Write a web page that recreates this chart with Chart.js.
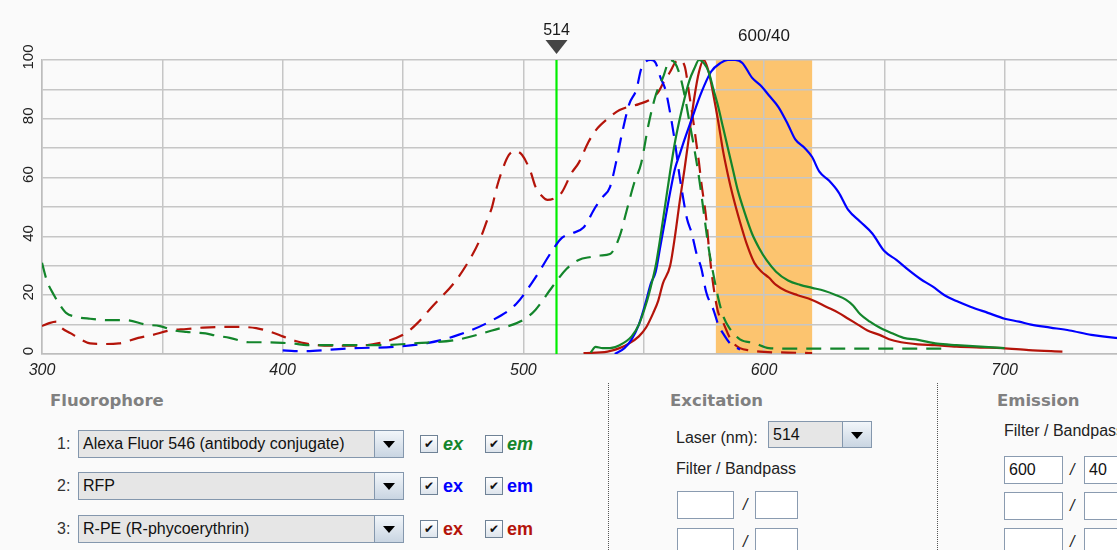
<!DOCTYPE html>
<html><head><meta charset="utf-8">
<script src="https://cdn.jsdelivr.net/npm/chart.js@4.4.0/dist/chart.umd.min.js"></script>
<style>
html,body{margin:0;padding:0;width:1117px;height:550px;overflow:hidden;background:#fafafa;font-family:"Liberation Sans",Arial,sans-serif;}
#wrap{position:absolute;left:0;top:0;width:1132px;height:380px;}
.a{position:absolute;white-space:nowrap;}
.hdr{font-family:"DejaVu Sans",sans-serif;font-weight:bold;font-size:16.5px;color:#808080;}
.txt{font-size:16px;color:#222;line-height:28px;}
.combo{position:absolute;box-sizing:border-box;border:1px solid #8497ad;background:#e6e6e6;font-size:16px;color:#111;line-height:26px;padding-left:4px;white-space:nowrap;overflow:hidden;}
.combo .btn{position:absolute;right:0;top:0;bottom:0;width:28px;border-left:1px solid #8497ad;background:linear-gradient(#f2f6fa,#c9d5e2);}
.combo .btn:after{content:"";position:absolute;left:8px;top:10px;border-left:6px solid transparent;border-right:6px solid transparent;border-top:7px solid #000;}
.chk{position:absolute;box-sizing:border-box;width:18px;height:18px;border:1px solid #6f8296;background:linear-gradient(#ffffff,#dde4ec);font-family:"DejaVu Sans",sans-serif;font-size:12px;font-weight:bold;line-height:16px;text-align:center;color:#111;}
.lbl{position:absolute;font-weight:bold;font-size:18px;line-height:28px;}
.inp{position:absolute;box-sizing:border-box;height:28px;border:1px solid #8a9bb0;background:#fff;font-size:16px;line-height:26px;padding-left:4px;color:#111;}
.sep{position:absolute;top:383px;height:167px;width:0;border-left:1.5px dotted #555;}
</style></head>
<body>
<div id="wrap"><canvas id="c" width="1132" height="380"></canvas></div>

<div class="a hdr" style="left:50px;top:391px;">Fluorophore</div>

<div class="a txt" style="left:57px;top:430px;color:#333;">1:</div>
<div class="combo" style="left:78px;top:430px;width:326px;height:28px;">Alexa Fluor 546 (antibody conjugate)<div class="btn"></div></div>
<div class="chk" style="left:420px;top:435px;">✔</div>
<div class="lbl" style="left:443px;top:430px;color:#13852b;font-style:italic;">ex</div>
<div class="chk" style="left:485px;top:435px;">✔</div>
<div class="lbl" style="left:507px;top:430px;color:#13852b;font-style:italic;">em</div>

<div class="a txt" style="left:57px;top:472px;color:#333;">2:</div>
<div class="combo" style="left:78px;top:472px;width:326px;height:28px;">RFP<div class="btn"></div></div>
<div class="chk" style="left:420px;top:477px;">✔</div>
<div class="lbl" style="left:443px;top:472px;color:#0000ff;">ex</div>
<div class="chk" style="left:485px;top:477px;">✔</div>
<div class="lbl" style="left:507px;top:472px;color:#0000ff;">em</div>

<div class="a txt" style="left:57px;top:515px;color:#333;">3:</div>
<div class="combo" style="left:78px;top:515px;width:326px;height:28px;">R-PE (R-phycoerythrin)<div class="btn"></div></div>
<div class="chk" style="left:420px;top:520px;">✔</div>
<div class="lbl" style="left:443px;top:515px;color:#b4140a;">ex</div>
<div class="chk" style="left:485px;top:520px;">✔</div>
<div class="lbl" style="left:507px;top:515px;color:#b4140a;">em</div>

<div class="sep" style="left:608px;"></div>
<div class="sep" style="left:937px;"></div>

<div class="a hdr" style="left:670px;top:391px;">Excitation</div>
<div class="a txt" style="left:676px;top:424px;">Laser (nm):</div>
<div class="combo" style="left:768px;top:421px;width:104px;height:27px;line-height:25px;">514<div class="btn"></div></div>
<div class="a txt" style="left:676px;top:455px;">Filter / Bandpass</div>
<div class="inp" style="left:677px;top:491px;width:57px;"></div>
<div class="a txt" style="left:743px;top:491px;font-style:italic;">/</div>
<div class="inp" style="left:755px;top:491px;width:43px;"></div>
<div class="inp" style="left:677px;top:528px;width:57px;"></div>
<div class="a txt" style="left:743px;top:528px;font-style:italic;">/</div>
<div class="inp" style="left:755px;top:528px;width:43px;"></div>

<div class="a hdr" style="left:997px;top:391px;">Emission</div>
<div class="a txt" style="left:1004px;top:417px;">Filter / Bandpass</div>
<div class="inp" style="left:1004px;top:456px;width:59px;">600</div>
<div class="a txt" style="left:1070px;top:456px;font-style:italic;">/</div>
<div class="inp" style="left:1084px;top:456px;width:45px;">40</div>
<div class="inp" style="left:1004px;top:492px;width:59px;"></div>
<div class="a txt" style="left:1070px;top:492px;font-style:italic;">/</div>
<div class="inp" style="left:1084px;top:492px;width:45px;"></div>
<div class="inp" style="left:1004px;top:528px;width:59px;"></div>
<div class="a txt" style="left:1070px;top:528px;font-style:italic;">/</div>
<div class="inp" style="left:1084px;top:528px;width:45px;"></div>

<script>
// ---- axis / annotation values ----
const xTickLabels = [300, 400, 500, 600, 700];
const yTickLabels = [0, 20, 40, 60, 80, 100];
const laserNm = 514;
const emFilterCenter = 600;
const emFilterWidth = 40;

// ---- 1: Alexa Fluor 546 (antibody conjugate) ----
const alexaExNm  = [300,302,305,308,310,315,320,328,335,343,349,355,360,368,372,378,386,392,400,405,410,420,430,440,456,472,487,500,505,512,518,523,528,532,536,540,543,546,549,552,555,558,561,563,565,567,569,571,573,575,577,579,581,583,585.5,590,596,602,610,640,675];
const alexaExVal = [31,25,20,16,14,12.5,12,11.5,11.5,10,9.5,8,7.5,7,6.3,5.5,4,4,3.8,3.5,3,3,3,3,3.7,4.8,8,11.6,15,22.8,29,32,33,33.5,34,40,49,58,65,78,88,94,100,99,95,88,79,70,60,48,36,27,19,13,9,5,3.7,2,1.8,1.8,1.8];
const alexaEmNm  = [528,530,533,536,540,545,548,551,553,555,557,559,561,563,565,567,569,571,573,575,577,579,581,583,585,587,589,592,595,598,601,605,610,615,620,625,630,634,637,640,644,648,652,658,664,672,680,690,700];
const alexaEmVal = [0.5,2.4,2,2,3,6,10,17,23,30,40,51,62,72,80,87,93,97,100,99,96,90,84,77,70,63,56,48,41,36,32,28,25,23.5,22.5,21.5,20,18.5,16.5,13.5,11,9,7.5,5.5,4.8,3.5,3,2.5,2];

// ---- 2: RFP ----
const rfpExNm  = [400,405,410,420,430,446,460,473,486,497,505,513,516,520,525,530,533,536,539,541,544,547,549,553,555,557,559,561,563,565,566,568,570,572,574,576,579,581,583,586,590];
const rfpExVal = [1.2,1,1,1.5,2,2.4,3.7,6.5,11,17,26,36.4,39.5,41,43,50,53.4,56.8,67,75,85,90,97,100,99,94,90,82,72,60,55,46,41,34,29,21,15,10,7,3.5,1.5];
const rfpEmNm  = [538,542,545,548,551,553,555,557,559,561,563,565,567,570,574,578,582,585,588,591,595,599,602,606,610,613,617,620,623,627,631,635,640,645,650,655,660,665,670,675,680,686,693,700,706,711,719,727,736,746,752];
const rfpEmVal = [0,2,5,10,18,24,28,37,46,55,63,68,73,80,89,96,99,100,100,99,94,91,88,84,78,73,70,67,62,59,55,49,45,41,35,32,28.6,25.5,23,20,18,16,14,12,11,10,9,8,6.5,5.5,5.2];

// ---- 3: R-PE (R-phycoerythrin) ----
const rpeExNm  = [300,303,306,308,312,316,320,325,332,340,346,353,360,367,375,382,389,395,400,405,410,420,430,440,451,456,462,472,479,482,485,487,489,491,494,496.5,499.5,503,505,508,510,513,516,520,523,527,530,535,540,548,553,556,558,561,563,564.5,567,569,571,572,573,574,576,577,578.5,580.7,583.4,585.5,587.5,590,594,600,610,620];
const rpeExVal = [9.5,10.5,11,9,7,5,3.6,3.4,3.6,5.5,6.5,8,8.5,9,9.2,9.2,8.8,7.5,6,4.5,3.5,2.8,2.8,3.7,7,10.5,16,25,34,39,45.6,50,56.8,62,67.7,69,67.7,62,57,53.5,52.4,53,55,61.5,65,72,76,80,83,85,86.7,89,92,96,99,100,98,88,77,71,65,58,46,37,26,15,10,6,3.5,2,1.2,0.7,0.5,0.3];
const rpeEmNm  = [525,535,540,544,548,551,554,556,558,561,563,565,567,569,571,573,575,577,579,581,583,585,587,590,593,596,599,602,605,609,614,620,626,631,635,639,643,648,652,657,664,671,680,690,699,710,724];
const rpeEmVal = [0.3,0.8,2,3.6,6,9,14,18,24,30,40,52,63,75,87,96,100,96,88,79,69,61,54,45,37,31,28,26,23.5,21.5,20,18.4,16,14,12,10,8,6.5,5,4,3.3,3,2.5,2.2,2,1.3,0.8];

const GREEN = '#13852b', BLUE = '#0000ff', RED = '#b4140a';
const DASH = [15, 9];

function pts(nm, val) { return nm.map((x, i) => ({ x: x, y: val[i] })); }
function ds(nm, val, color, dashed) {
  return { data: pts(nm, val), borderColor: color, backgroundColor: color, borderWidth: 2.2,
    borderDash: dashed ? DASH : [], showLine: true, pointRadius: 0, fill: false,
    cubicInterpolationMode: 'monotone' };
}

const overlay = {
  id: 'overlay',
  beforeDraw(chart) {
    const { ctx, chartArea: a, scales: { x } } = chart;
    const l = x.getPixelForValue(emFilterCenter - emFilterWidth / 2);
    const r = x.getPixelForValue(emFilterCenter + emFilterWidth / 2);
    ctx.save();
    ctx.fillStyle = '#fcc46f';
    ctx.fillRect(l, a.top, r - l, a.bottom - a.top);
    ctx.restore();
  },
  beforeDatasetsDraw(chart) {
    const { ctx, chartArea: a, scales: { x } } = chart;
    const px = Math.round(x.getPixelForValue(laserNm)) - 0.5;
    ctx.save();
    ctx.strokeStyle = '#00ee00';
    ctx.lineWidth = 2.2;
    ctx.beginPath(); ctx.moveTo(px, a.top); ctx.lineTo(px, a.bottom); ctx.stroke();
    ctx.restore();
  },
  afterDraw(chart) {
    const { ctx, chartArea: a, scales: { x, y } } = chart;
    ctx.save();
    const lx = x.getPixelForValue(laserNm) - 0.5;
    ctx.fillStyle = '#454545';
    ctx.beginPath();
    ctx.moveTo(lx - 11, a.top - 20); ctx.lineTo(lx + 11, a.top - 20); ctx.lineTo(lx, a.top - 6);
    ctx.closePath(); ctx.fill();
    ctx.fillStyle = '#1a1a1a';
    ctx.font = '16px "Liberation Sans", Arial, sans-serif';
    ctx.textAlign = 'center'; ctx.textBaseline = 'middle';
    ctx.fillText(String(laserNm), lx, a.top - 29);
    ctx.font = '17px "Liberation Sans", Arial, sans-serif';
    ctx.fillText(emFilterCenter + '/' + emFilterWidth, x.getPixelForValue(emFilterCenter), a.top - 24);
    ctx.font = '15px "Liberation Sans", Arial, sans-serif';
    ctx.fillStyle = '#222';
    yTickLabels.forEach(v => {
      const py = y.getPixelForValue(v);
      ctx.save();
      ctx.translate(a.left - 13, py - 3);
      ctx.rotate(-Math.PI / 2);
      ctx.fillText(String(v), 0, 0);
      ctx.restore();
    });
    ctx.restore();
  }
};

new Chart(document.getElementById('c'), {
  type: 'scatter',
  data: { datasets: [
    ds(alexaExNm, alexaExVal, GREEN, true),
    ds(alexaEmNm, alexaEmVal, GREEN, false),
    ds(rfpExNm, rfpExVal, BLUE, true),
    ds(rfpEmNm, rfpEmVal, BLUE, false),
    ds(rpeExNm, rpeExVal, RED, true),
    ds(rpeEmNm, rpeEmVal, RED, false)
  ] },
  options: {
    responsive: false, animation: false, devicePixelRatio: 1,
    layout: { padding: { top: 60, left: 0, right: 0, bottom: 0 } },
    plugins: { legend: { display: false }, tooltip: { enabled: false } },
    scales: {
      x: {
        type: 'linear', min: 300, max: 750,
        afterFit(s) { s.height = 26; },
        ticks: { stepSize: 50, autoSkip: false, maxRotation: 0, minRotation: 0,
          callback: v => xTickLabels.includes(v) ? String(v) : '',
          font: { family: '"Liberation Sans", Arial, sans-serif', size: 16, style: 'italic' },
          color: '#222', padding: 7 },
        grid: { color: '#c6c6c6', lineWidth: 1.5, drawTicks: false },
        border: { color: '#bdbdbd', width: 1.5 }
      },
      y: {
        min: 0, max: 100,
        afterFit(s) { s.width = 42; },
        ticks: { stepSize: 10, display: false },
        grid: { color: '#c6c6c6', lineWidth: 1.5, drawTicks: false },
        border: { color: '#bdbdbd', width: 1.5 }
      }
    }
  },
  plugins: [overlay]
});
</script>
</body></html>
